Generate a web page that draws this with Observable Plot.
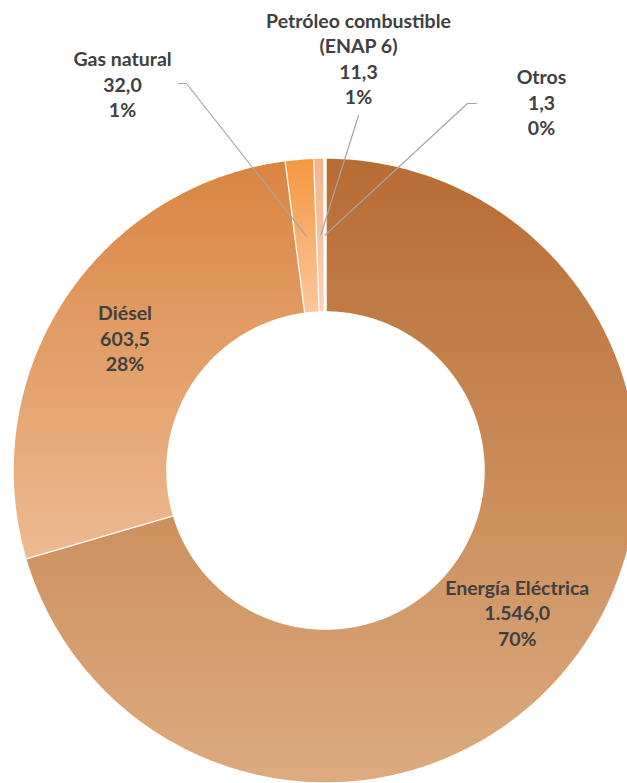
<!DOCTYPE html>
<html>
<head>
<meta charset="utf-8">
<script src="https://cdn.jsdelivr.net/npm/d3@7"></script>
<script src="https://cdn.jsdelivr.net/npm/@observablehq/plot@0.6"></script>
<style>
  html, body { margin: 0; padding: 0; background: #fff; }
  #chart svg { display: block; }
</style>
</head>
<body>
<div id="chart"></div>
<script>
// ---- Data ----
const categories = ["Energía Eléctrica", "Diésel", "Gas natural", "Petróleo combustible\n(ENAP 6)", "Otros"];
const values = [1546.0, 603.5, 32.0, 11.3, 1.3];
const valueLabels = ["1.546,0", "603,5", "32,0", "11,3", "1,3"];
const pctLabels = ["70%", "28%", "1%", "1%", "0%"];

// ---- Style / layout ----
const gradTop = ["#B76C32", "#DA8541", "#F5973E", "#F6B28B", "#F7C4A4"];
const gradBottom = ["#DDAB80", "#EDBA92", "#FBC89D", "#FAD2B8", "#FBDCC8"];
const W = 627, H = 783;
const cx = 325, cy = 470;           // donut centre in pixels
const rOuter = 313, rInner = 158;
const rMid = (rOuter + rInner) / 2;
// label placement for outside labels (label block centre relative to centre, leader elbow)
const outside = {
  2: {lx: -203, ly: -385, path: [[-147, -387], [-139, -387]]},
  3: {lx: 33, ly: -411, path: [[33, -355]]},
  4: {lx: 216, ly: -367, path: [[151, -367], [142, -367]]}
};

const pie = d3.pie().sort(null).value(d => d)(values);
const slicePts = [];
pie.forEach((p, i) => {
  const n = Math.max(4, Math.ceil((p.endAngle - p.startAngle) * 120));
  for (let k = 0; k <= n; k++) {
    const a = p.startAngle + (p.endAngle - p.startAngle) * k / n;
    slicePts.push({i, x: rOuter * Math.sin(a), y: -rOuter * Math.cos(a)});
  }
  for (let k = n; k >= 0; k--) {
    const a = p.startAngle + (p.endAngle - p.startAngle) * k / n;
    slicePts.push({i, x: rInner * Math.sin(a), y: -rInner * Math.cos(a)});
  }
});

const lineH = 25.5;
const textRows = [];
const leaderPts = [];
pie.forEach((p, i) => {
  const mid = (p.startAngle + p.endAngle) / 2;
  const lines = [...categories[i].split("\n"), valueLabels[i], pctLabels[i]];
  let lx, ly;
  if (outside[i]) {
    lx = outside[i].lx; ly = outside[i].ly;
    const pts = outside[i].path.map(([x, y]) => ({x, y}));
    pts.push({x: rMid * Math.sin(mid), y: -rMid * Math.cos(mid)});
    pts.forEach(pt => leaderPts.push({i, ...pt}));
  } else {
    lx = (rMid + 4) * Math.sin(mid); ly = -(rMid + 4) * Math.cos(mid);
  }
  lines.forEach((t, k) => {
    textRows.push({i, text: t, x: lx, y: ly + (k - (lines.length - 1) / 2) * lineH});
  });
});

const sliceMarks = categories.map((c, i) =>
  Plot.line(slicePts.filter(d => d.i === i), {
    x: "x", y: "y",
    fill: `url(#grad${i})`,
    stroke: "white", strokeWidth: 2.5, strokeLinejoin: "miter",
    curve: "linear"
  })
);

const chart = Plot.plot({
  width: W, height: H,
  margin: 0,
  x: {domain: [-cx, W - cx], range: [0, W], axis: null},
  y: {domain: [-cy, H - cy], range: [0, H], axis: null},
  style: {fontFamily: "Lato, 'Open Sans', sans-serif", overflow: "hidden"},
  marks: [
    ...sliceMarks,
    Plot.line(leaderPts, {x: "x", y: "y", z: "i", stroke: "#A6A6A6", strokeWidth: 1.2}),
    Plot.text(textRows, {
      x: "x", y: "y", text: "text",
      fill: "#404040", fontWeight: "bold", fontSize: 19.5,
      textAnchor: "middle", lineAnchor: "middle"
    })
  ]
});

const ns = "http://www.w3.org/2000/svg";
const defs = document.createElementNS(ns, "defs");
categories.forEach((c, i) => {
  const g = document.createElementNS(ns, "linearGradient");
  g.setAttribute("id", `grad${i}`);
  g.setAttribute("x1", "0"); g.setAttribute("y1", "0");
  g.setAttribute("x2", "0"); g.setAttribute("y2", "1");
  [[0, gradTop[i]], [1, gradBottom[i]]].forEach(([o, col]) => {
    const s = document.createElementNS(ns, "stop");
    s.setAttribute("offset", o);
    s.setAttribute("stop-color", col);
    g.appendChild(s);
  });
  defs.appendChild(g);
});
chart.insertBefore(defs, chart.firstChild);
document.getElementById("chart").appendChild(chart);
</script>
</body>
</html>
